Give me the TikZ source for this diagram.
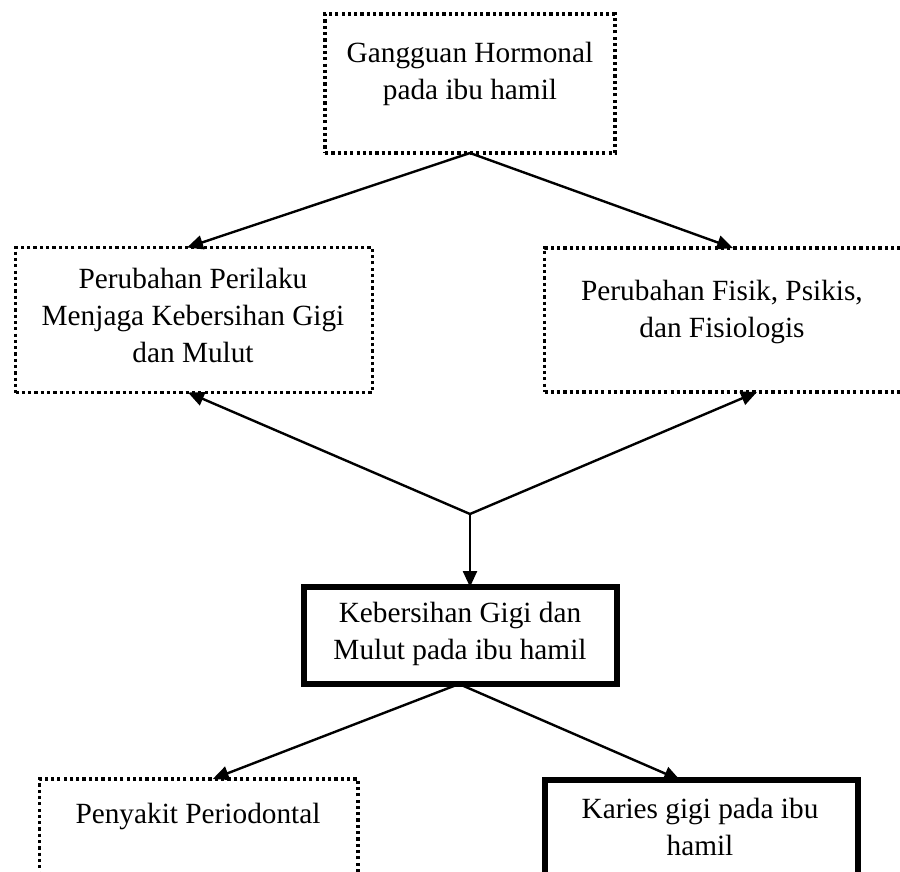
\documentclass[tikz,border=0pt]{standalone}
\usepackage{fontspec}
\setmainfont{Liberation Serif}
\usetikzlibrary{arrows.meta}
\begin{document}
\begin{tikzpicture}[x=1pt,y=-1pt,
  dotbox/.style={draw, line width=3.5pt, dash pattern=on 3.2pt off 3.1pt, inner sep=0pt, outer sep=0pt},
  solidbox/.style={draw, line width=6.5pt, inner sep=0pt, outer sep=0pt},
  txt/.style={align=center, inner sep=0pt, anchor=north, font=\fontsize{29.3}{37}\selectfont},
  arr/.style={-{Triangle[length=16pt,width=14pt]}, line width=2.4pt}]
\useasboundingbox (0,0) rectangle (900,872);
\clip (0,0) rectangle (900,872);

\node[dotbox, minimum width=290pt, minimum height=139pt] (top) at (470,83.5) {};
\node[txt] (toptxt) at (470,42) {Gangguan Hormonal\\pada ibu hamil};

\node[dotbox, minimum width=357pt, minimum height=145pt] (left) at (194,320) {};
\node[txt] (lefttxt) at (193,268) {Perubahan Perilaku\\Menjaga Kebersihan Gigi\\dan Mulut};

\node[dotbox, minimum width=380pt, minimum height=144pt] (right) at (734.5,320) {};
\node[txt] (righttxt) at (722,280) {Perubahan Fisik, Psikis,\\dan Fisiologis};

\node[solidbox, minimum width=313pt, minimum height=97pt] (mid) at (460.5,635.5) {};
\node[txt] (midtxt) at (460,602) {Kebersihan Gigi dan\\Mulut pada ibu hamil};

\node[dotbox, minimum width=318.5pt, minimum height=121pt] (peny) at (198.75,839.5) {};
\node[txt] (penytxt) at (198,803) {Penyakit Periodontal};

\node[solidbox, line width=6pt, minimum width=313pt, minimum height=120pt] (kar) at (701.5,840) {};
\node[txt] (kartxt) at (700,798) {Karies gigi pada ibu\\hamil};

\coordinate (j) at (470,514);
\draw[arr] (top.south) -- ([xshift=-7pt]left.north);
\draw[arr] (top.south) -- ([xshift=-1.5pt]right.north);
\draw[arr] (j) -- ([xshift=-6pt]left.south);
\draw[arr] (j) -- ([xshift=22.5pt]right.south);
\draw[arr] (j) -- ([xshift=9.5pt]mid.north);
\draw[arr] ([xshift=-1.5pt]mid.south) -- ([xshift=14pt]peny.north);
\draw[arr] ([xshift=-1.5pt]mid.south) -- ([xshift=-21.5pt]kar.north);
\end{tikzpicture}
\end{document}
